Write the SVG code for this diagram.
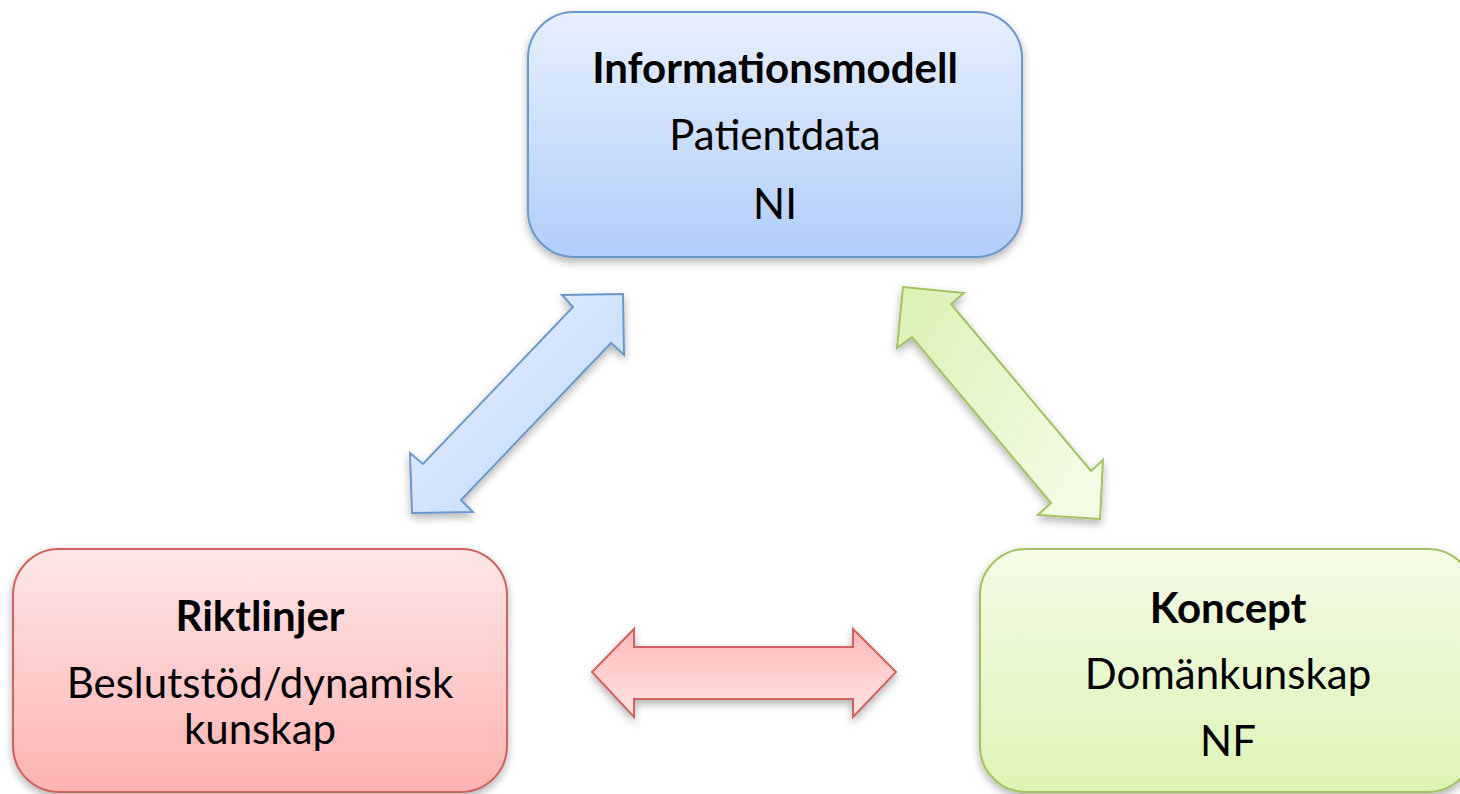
<svg xmlns="http://www.w3.org/2000/svg" width="1460" height="794" viewBox="0 0 1460 794">
<style>
.t{font-family:Lato,"Open Sans","Liberation Sans",sans-serif;font-size:42px;fill:#000;text-anchor:middle}
.b{font-weight:bold}
.box{stroke-width:2}
.arr{stroke-width:2;stroke-linejoin:miter}
</style>
<defs>
<filter id="sh" x="-10%" y="-10%" width="120%" height="130%">
<feDropShadow dx="0" dy="4" stdDeviation="4" flood-color="#000" flood-opacity="0.3"/>
</filter>
<linearGradient id="gBlue" x1="0" y1="0" x2="0" y2="1">
<stop offset="0" stop-color="#e7f0ff"/><stop offset="1" stop-color="#b1cdf9"/>
</linearGradient>
<linearGradient id="gRed" x1="0" y1="0" x2="0" y2="1">
<stop offset="0" stop-color="#ffe7e7"/><stop offset="1" stop-color="#ffb2b2"/>
</linearGradient>
<linearGradient id="gGreen" x1="0" y1="0" x2="0" y2="1">
<stop offset="0" stop-color="#f5fbe8"/><stop offset="1" stop-color="#dcf4b4"/>
</linearGradient>
<linearGradient id="aBlue" x1="0" y1="0" x2="1" y2="1">
<stop offset="0" stop-color="#eef4ff"/><stop offset="1" stop-color="#b9d3fa"/>
</linearGradient>
<linearGradient id="aGreen" x1="0" y1="0" x2="1" y2="0.6">
<stop offset="0" stop-color="#d9f2b2"/><stop offset="1" stop-color="#f3fbe4"/>
</linearGradient>
<linearGradient id="aRed" x1="0" y1="0" x2="0" y2="1">
<stop offset="0" stop-color="#ffb8b8"/><stop offset="1" stop-color="#ffe4e4"/>
</linearGradient>
</defs>
<g id="connectors">
<polygon class="arr" filter="url(#sh)" fill="url(#aBlue)" stroke="#6b98cb" points="623,294 624,355 611,343 461,500 473,512 412,513 410,453 423,464 573,307 562,295"/>
<polygon class="arr" filter="url(#sh)" fill="url(#aGreen)" stroke="#a3c363" points="903,287 964,293 951,304 1091,471 1103,460 1100,519 1038,515 1051,503 912,337 897,348"/>
<polygon class="arr" filter="url(#sh)" fill="url(#aRed)" stroke="#d0625e" points="592,672 634,629 634,647 853,647 853,629 896,672 853,717 853,699 634,699 634,717"/>
</g>
<g id="node-informationsmodell">
<rect class="box" filter="url(#sh)" x="528" y="12" width="494" height="245" rx="46" fill="url(#gBlue)" stroke="#6b98cb"/>
<text class="t b" x="775" y="83">Informationsmodell</text>
<text class="t" x="775" y="150">Patientdata</text>
<text class="t" x="775" y="219">NI</text>
</g>
<g id="node-riktlinjer">
<rect class="box" filter="url(#sh)" x="13" y="549" width="494" height="243" rx="46" fill="url(#gRed)" stroke="#d0625e"/>
<text class="t b" x="260" y="631">Riktlinjer</text>
<text class="t" x="260" y="698">Beslutstöd/dynamisk</text>
<text class="t" x="260" y="744">kunskap</text>
</g>
<g id="node-koncept">
<rect class="box" filter="url(#sh)" x="980" y="549" width="494" height="243" rx="46" fill="url(#gGreen)" stroke="#a3c363"/>
<text class="t b" x="1228" y="623">Koncept</text>
<text class="t" x="1228" y="689">Domänkunskap</text>
<text class="t" x="1228" y="756">NF</text>
</g>
</svg>
